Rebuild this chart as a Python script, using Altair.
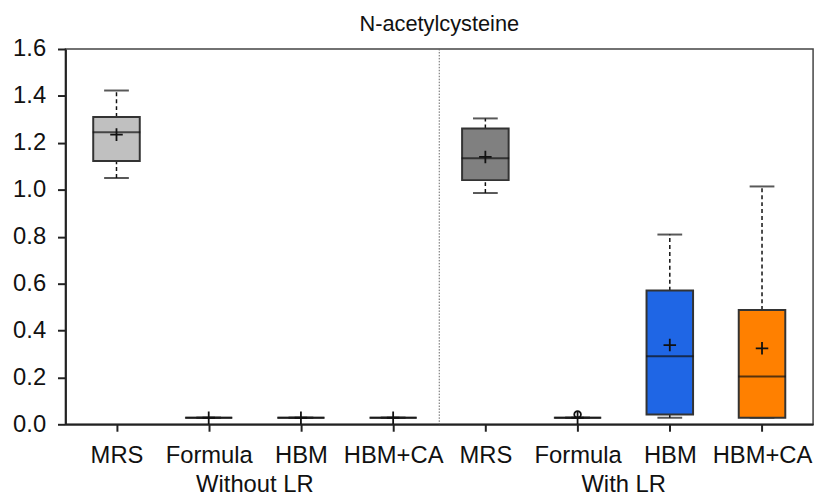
import altair as alt
import pandas as pd

# ---- data ----
positions = [1, 2, 3, 4, 5, 6, 7, 8]
categories = ["MRS", "Formula", "HBM", "HBM+CA", "MRS", "Formula", "HBM", "HBM+CA"]
groups = ["Without LR"] * 4 + ["With LR"] * 4
whisker_low = [1.050, 0.028, 0.028, 0.028, 0.986, 0.028, 0.028, 0.028]
q1 = [1.123, 0.028, 0.028, 0.028, 1.041, 0.028, 0.042, 0.028]
median = [1.245, 0.028, 0.028, 0.028, 1.134, 0.028, 0.290, 0.204]
q3 = [1.310, 0.028, 0.028, 0.028, 1.261, 0.028, 0.570, 0.487]
whisker_high = [1.423, 0.028, 0.028, 0.028, 1.304, 0.028, 0.809, 1.014]
mean = [1.235, 0.028, 0.028, 0.028, 1.140, 0.028, 0.338, 0.324]
fills = ["#c0c0c0", "#c0c0c0", "#c0c0c0", "#c0c0c0", "#808080", "#c0c0c0", "#1f66e5", "#ff8000"]

outlier_pos = [6]
outlier_val = [0.042]

group_label_pos = [2.5, 6.5]
group_labels = ["Without LR", "With LR"]
divider_pos = [4.5]

df = pd.DataFrame({
    "pos": positions, "cat": categories, "group": groups,
    "wl": whisker_low, "q1": q1, "med": median, "q3": q3,
    "wh": whisker_high, "mean": mean, "fill": fills,
})
out_df = pd.DataFrame({"pos": outlier_pos, "val": outlier_val})
grp_df = pd.DataFrame({"pos": group_label_pos, "label": group_labels})
div_df = pd.DataFrame({"pos": divider_pos})

W, H = 755, 379
FONT = "Liberation Sans"
FS = 24

label_expr = "{" + ",".join(f"'{p}':'{c}'" for p, c in zip(positions, categories)) + "}[datum.value]"

xscale = alt.Scale(domain=[0.5, 8.5], nice=False, zero=False)
yscale = alt.Scale(domain=[0, 1.6], nice=False)

xaxis = alt.Axis(values=positions, labelExpr=label_expr, title=None, grid=False,
                 tickSize=7, labelPadding=13, labelFontSize=FS, labelFont=FONT,
                 labelColor="#111", domainColor="#222", tickColor="#222",
                 domainWidth=2, tickWidth=2, labelFlush=False)
yaxis = alt.Axis(values=[0, 0.2, 0.4, 0.6, 0.8, 1.0, 1.2, 1.4, 1.6], format=".1f",
                 title=None, grid=False, tickSize=8, labelPadding=12,
                 labelFontSize=FS, labelFont=FONT, labelColor="#111",
                 domainColor="#222", tickColor="#222", domainWidth=2, tickWidth=2)

base = alt.Chart(df)
X = alt.X("pos:Q", scale=xscale, axis=xaxis)

lower_whisker = base.mark_rule(color="#111", strokeWidth=1.5, strokeDash=[4, 3]).encode(
    x=X, y=alt.Y("wl:Q", scale=yscale, axis=yaxis), y2="q1:Q")
upper_whisker = base.mark_rule(color="#111", strokeWidth=1.5, strokeDash=[4, 3]).encode(
    x="pos:Q", y="q3:Q", y2="wh:Q")
cap_low = base.mark_tick(orient="horizontal", size=25, thickness=2, color="#111").encode(
    x="pos:Q", y="wl:Q")
cap_high = base.mark_tick(orient="horizontal", size=25, thickness=2, color="#111").encode(
    x="pos:Q", y="wh:Q")
boxes = base.mark_bar(size=47, stroke="#333", strokeWidth=2).encode(
    x="pos:Q", y="q1:Q", y2="q3:Q", fill=alt.Fill("fill:N", scale=None))
med_line = base.mark_tick(orient="horizontal", size=48, thickness=2, color="#111").encode(
    x="pos:Q", y="med:Q")
mean_mark = base.mark_point(shape="M-1,0L1,0M0,-1L0,1", size=160, stroke="#111",
                            strokeWidth=1.8, filled=False, opacity=1).encode(
    x="pos:Q", y="mean:Q")
outliers = alt.Chart(out_df).mark_point(shape="circle", size=45, stroke="#111",
                                        strokeWidth=1.8, filled=False, opacity=1).encode(
    x="pos:Q", y="val:Q")
divider = alt.Chart(div_df).mark_rule(color="#666", strokeWidth=1, strokeDash=[1.5, 1.5]).encode(
    x="pos:Q")
grp_text = alt.Chart(grp_df).mark_text(fontSize=FS, font=FONT, color="#111",
                                       baseline="alphabetic", align="center").encode(
    x="pos:Q", y=alt.value(H + 68), text="label:N")

chart = alt.layer(
    divider, lower_whisker, upper_whisker, cap_low, cap_high, boxes, med_line,
    mean_mark, outliers, grp_text
).properties(
    width=W, height=H,
    title=alt.TitleParams("N-acetylcysteine", fontSize=22, font=FONT, fontWeight="normal",
                          color="#111", offset=1),
    autosize=alt.AutoSizeParams(type="none"),
    padding={"left": 58, "top": 39, "right": 8, "bottom": 70},
).configure_view(stroke="#444", strokeWidth=1.5)

chart.save("out.html", embed_options={"renderer": "svg", "actions": False})
